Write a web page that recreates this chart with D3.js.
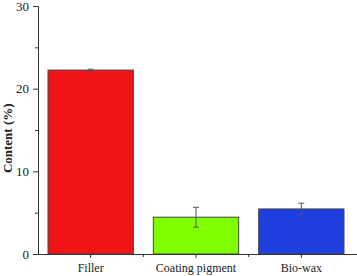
<!DOCTYPE html>
<html>
<head>
<meta charset="utf-8">
<script src="https://cdn.jsdelivr.net/npm/d3@7"></script>
<style>
  body { margin: 0; background: #fff; }
  text { font-family: "Liberation Serif", "Times New Roman", serif; }
</style>
</head>
<body>
<div id="chart"></div>
<script>

var categories = ['Filler', 'Coating pigment', 'Bio-wax'];
var values = [22.25, 4.45, 5.45];
var errors = [0.1, 1.2, 0.7];
var colors = ['#f21414', '#80ff00', '#1f3ee0'];
var yTicks = [0, 10, 20, 30];

var width = 357, height = 276;
var margin = { top: 6, right: 3, bottom: 22, left: 38 };

var svg = d3.select('#chart').append('svg')
    .attr('width', width)
    .attr('height', height);

var x = d3.scaleBand()
    .domain(categories)
    .range([margin.left, 354])
    .paddingInner(0.19)
    .paddingOuter(0.095);

var y = d3.scaleLinear()
    .domain([0, 30])
    .range([height - margin.bottom, margin.top]);

// bars
svg.selectAll('.bar')
    .data(categories).enter()
    .append('rect')
    .attr('class', 'bar')
    .attr('x', function(d){ return x(d); })
    .attr('y', function(d, i){ return y(values[i]); })
    .attr('width', x.bandwidth())
    .attr('height', function(d, i){ return y(0) - y(values[i]); })
    .style('fill', function(d, i){ return colors[i]; })
    .style('stroke', '#444')
    .style('stroke-width', '1px');

// error bars
var eb = svg.selectAll('.err')
    .data(categories).enter()
    .append('g').attr('class', 'err')
    .style('stroke', '#555')
    .style('stroke-width', '1px');

eb.append('line')
    .attr('x1', function(d){ return x(d) + x.bandwidth() / 2; })
    .attr('x2', function(d){ return x(d) + x.bandwidth() / 2; })
    .attr('y1', function(d, i){ return y(values[i] + errors[i]); })
    .attr('y2', function(d, i){ return y(values[i] - errors[i]); });

[1, -1].forEach(function(s){
    eb.append('line')
        .attr('x1', function(d){ return x(d) + x.bandwidth() / 2 - 3; })
        .attr('x2', function(d){ return x(d) + x.bandwidth() / 2 + 3; })
        .attr('y1', function(d, i){ return y(values[i] + s * errors[i]); })
        .attr('y2', function(d, i){ return y(values[i] + s * errors[i]); });
});

// y axis
var yAxis = svg.append('g')
    .attr('class', 'yaxis')
    .attr('transform', 'translate(' + margin.left + ',0)')
    .call(d3.axisLeft(y).tickValues(yTicks).tickSize(5).tickPadding(4));

svg.append('g')
    .attr('transform', 'translate(' + margin.left + ',0)')
    .call(d3.axisLeft(y).tickValues([5, 15, 25]).tickSize(3).tickFormat(''))
    .select('.domain').remove();

// x axis
var xAxis = svg.append('g')
    .attr('class', 'xaxis')
    .attr('transform', 'translate(0,' + y(0) + ')')
    .call(d3.axisBottom(x).tickSize(4).tickPadding(5).tickSizeOuter(0));

xAxis.select('.domain').attr('d', 'M' + margin.left + ',0.5H' + width);

var minorX = categories.slice(1).map(function(d){ return x(d) - x.step() * x.paddingInner() / 2; });
svg.append('g')
    .selectAll('line')
    .data(minorX).enter()
    .append('line')
    .attr('x1', function(d){ return d; })
    .attr('x2', function(d){ return d; })
    .attr('y1', y(0))
    .attr('y2', y(0) + 3)
    .style('stroke', '#333');

svg.selectAll('.domain, .tick line').style('stroke', '#333');
svg.selectAll('.tick text')
    .style('font-family', '"Liberation Serif", serif')
    .style('fill', '#222');
svg.selectAll('.xaxis .tick text').style('font-size', '12px');
svg.selectAll('.yaxis .tick text').style('font-size', '13px');

// y label
svg.append('text')
    .attr('transform', 'translate(12,' + y(14) + ') rotate(-90)')
    .attr('text-anchor', 'middle')
    .style('font-size', '13px')
    .style('font-weight', 'bold')
    .style('fill', '#222')
    .text('Content (%)');

</script>
</body>
</html>
